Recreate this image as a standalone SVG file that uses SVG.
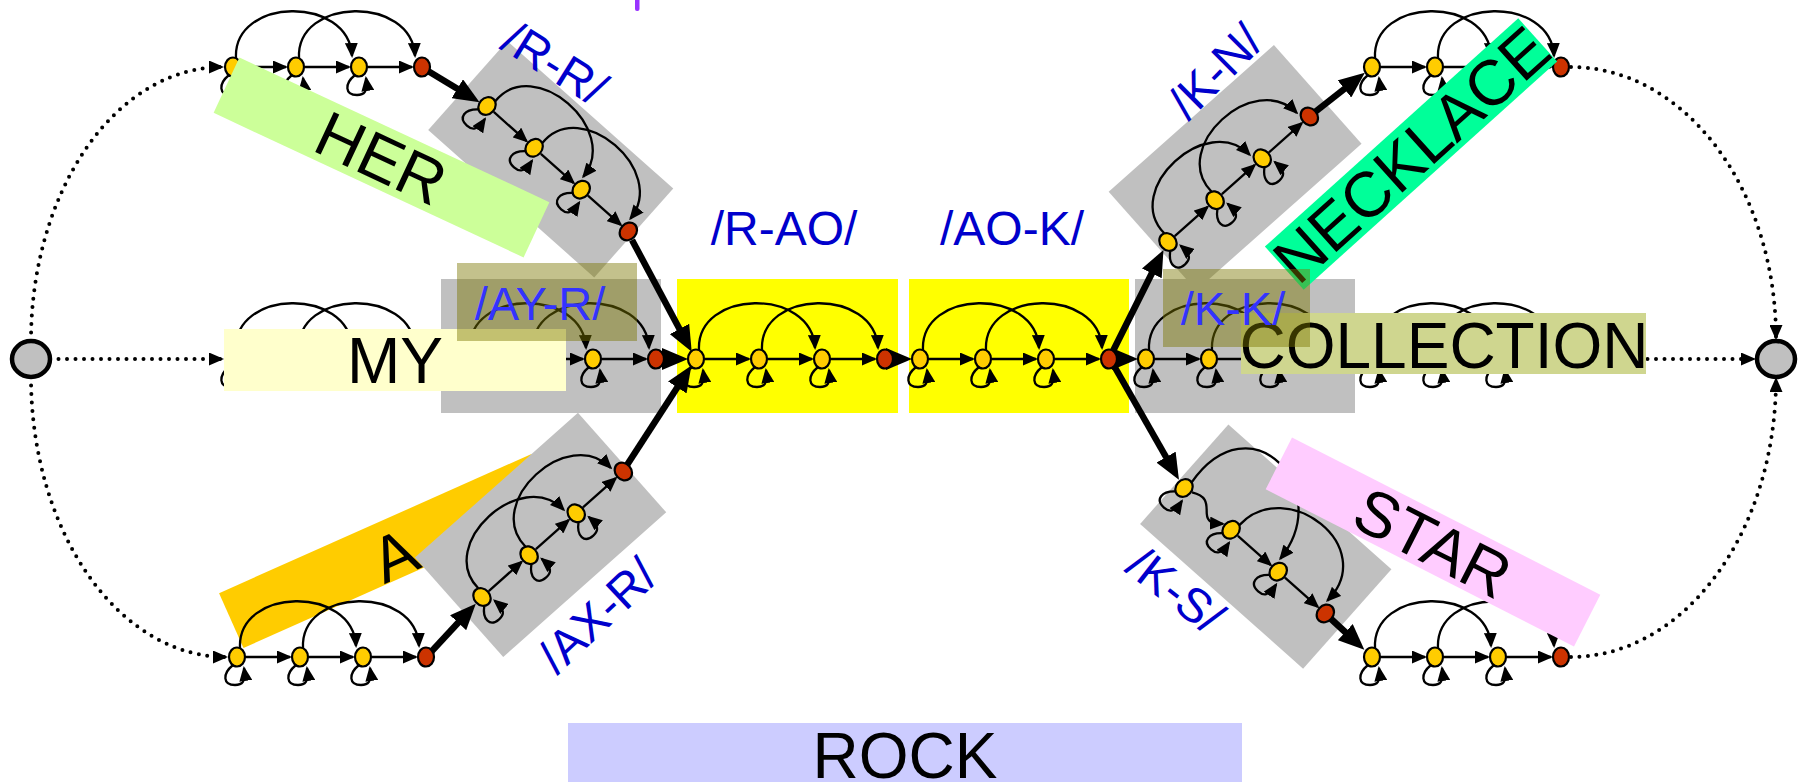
<svg xmlns="http://www.w3.org/2000/svg" width="1805" height="782" viewBox="0 0 1805 782">
<style>
.e{fill:none;stroke:#000;stroke-width:2.3;marker-end:url(#ah)}
.y{fill:#ffcc00;stroke:#000;stroke-width:2.2}
.r{fill:#cc3300;stroke:#000;stroke-width:2.2}
.box{fill:#c0c0c0}
.ybox{fill:#ffff00}
.tk{fill:none;stroke:#000;stroke-width:6.5;marker-end:url(#AH)}
.dt{fill:none;stroke:#000;stroke-width:4;stroke-dasharray:0 8.5;stroke-linecap:round;marker-end:url(#ah)}
.big{fill:#c0c0c0;stroke:#000;stroke-width:4.5}
.w{font-family:"Liberation Sans",Arial,sans-serif;font-size:64px;text-anchor:middle;fill:#000}
.t{font-family:"Liberation Sans",Arial,sans-serif;font-size:48px;text-anchor:middle;fill:#0000cc}
.t2{font-family:"Liberation Sans",Arial,sans-serif;font-size:47px;text-anchor:middle;fill:#3333ff}
.ol{fill:#7a7500;fill-opacity:.45}
</style>
<defs>
<marker id="ah" viewBox="0 0 15 13" refX="13" refY="6.5" markerWidth="15" markerHeight="13" markerUnits="userSpaceOnUse" orient="auto"><path d="M0,0L15,6.5L0,13z"/></marker>
<marker id="AH" viewBox="0 0 26 22" refX="16" refY="11" markerWidth="26" markerHeight="22" markerUnits="userSpaceOnUse" orient="auto"><path d="M0,0L26,11L0,22z"/></marker>
<g id="loops">
<path class="e" d="M-4,8C-15,17 -14,28 -2,28C5,28 9,25 7,11"/>
<path class="e" d="M59,8C48,17 49,28 61,28C68,28 72,25 70,11"/>
<path class="e" d="M122,8C111,17 112,28 124,28C131,28 135,25 133,11"/>
</g>
<g id="nodes">
<ellipse class="y" cx="0" cy="0" rx="8" ry="9.5"/>
<ellipse class="y" cx="63" cy="0" rx="8" ry="9.5"/>
<ellipse class="y" cx="126" cy="0" rx="8" ry="9.5"/>
<ellipse class="r" cx="189" cy="0" rx="8" ry="9.5"/>
</g>
<g id="chain">
<line class="e" x1="9" y1="0" x2="53" y2="0"/>
<line class="e" x1="72" y1="0" x2="116" y2="0"/>
<line class="e" x1="135" y1="0" x2="179" y2="0"/>
<path class="e" d="M3,-9C0,-70 116,-72 119,-11"/>
<path class="e" d="M66,-9C63,-70 179,-72 182,-11"/>
<use href="#loops"/>
<use href="#nodes"/>
</g>
<g id="chainks">
<path class="e" d="M9,-2C24,-10 28,-2 34,4C40,10 44,8 53,1"/>
<line class="e" x1="72" y1="0" x2="116" y2="0"/>
<line class="e" x1="135" y1="0" x2="179" y2="0"/>
<path class="e" d="M2,-9C-10,-112 115,-100 119,-11"/>
<path class="e" d="M66,-9C68,-78 186,-86 182,-11"/>
<use href="#loops"/>
<use href="#nodes"/>
</g>
</defs>
<rect width="1805" height="782" fill="#fff"/>
<rect x="635" y="-3" width="4.5" height="14" rx="2" fill="#9933ff"/>
<g id="label-a" transform="translate(387.5,551) rotate(-24)"><rect x="-171" y="-30" width="342" height="60" fill="#ffcc00"/><text class="w" x="5" y="29">A</text></g>
<g id="label-rock"><rect x="568" y="723" width="674" height="60" fill="#ccccff"/><text class="w" x="905" y="778">ROCK</text></g>
<g id="boxes">
<rect class="ybox" x="677" y="279" width="221" height="134"/>
<rect class="ybox" x="909" y="279" width="220" height="134"/>
<rect class="box" x="441" y="279" width="220" height="134"/>
<rect class="box" x="1135" y="279" width="220" height="134"/>
<rect class="box" transform="translate(487,106) rotate(41.6)" x="-28" y="-62" width="222" height="119"/>
<rect class="box" transform="translate(482,597) rotate(-41.6)" x="-24" y="-74" width="218" height="133"/>
<rect class="box" transform="translate(1168,242) rotate(-41.6)" x="-11" y="-77" width="221" height="132"/>
<rect class="box" transform="translate(1184,488) rotate(41.6)" x="-9" y="-77" width="218" height="133"/>
</g>
<g id="connectors">
<path class="dt" d="M50,359H222"/>
<path class="dt" d="M31,341A191 274 0 0 1 222,67"/>
<path class="dt" d="M31,377A195 280 0 0 0 226,657"/>
<path class="dt" d="M1571,67A205 271 0 0 1 1776,338"/>
<path class="dt" d="M1571,359H1754"/>
<path class="dt" d="M1571,657A205 278 0 0 0 1776,379"/>
<path class="tk" d="M428,71L471,97"/>
<path class="tk" d="M632,240L687,343"/>
<path class="tk" d="M663,359H678"/>
<path class="tk" d="M627,465L686,374"/>
<path class="tk" d="M892,359H902"/>
<path class="tk" d="M1116,359H1128"/>
<path class="tk" d="M1112,353L1159,259"/>
<path class="tk" d="M1113,364L1174,471"/>
<path class="tk" d="M1315,112L1357,79"/>
<path class="tk" d="M1330,618L1357,643"/>
<path class="tk" d="M431,652L469,611"/>
<path class="tk" d="M429,359H449"/>
<path class="tk" d="M1342,359H1354"/>
</g>
<g id="start"><ellipse class="big" cx="31" cy="359" rx="19" ry="18"/></g>
<g id="end"><ellipse class="big" cx="1776" cy="359" rx="19" ry="18"/></g>
<g id="chain-her" transform="translate(233,67)"><use href="#chain"/></g>
<g id="chain-r-r" transform="translate(487,106) rotate(41.6)"><use href="#chain"/></g>
<g id="chain-my" transform="translate(233,359)"><use href="#chain"/></g>
<g id="chain-ay-r" transform="translate(467,359)"><use href="#chain"/></g>
<g id="chain-a" transform="translate(237,657)"><use href="#chain"/></g>
<g id="chain-ax-r" transform="translate(482,597) rotate(-41.6)"><use href="#chain"/></g>
<g id="chain-r-ao" transform="translate(696,359)"><use href="#chain"/></g>
<g id="chain-ao-k" transform="translate(920,359)"><use href="#chain"/></g>
<g id="chain-k-k" transform="translate(1146,359)"><use href="#chain"/></g>
<g id="chain-collection" transform="translate(1372,359)"><use href="#chain"/></g>
<g id="chain-k-n" transform="translate(1168,242) rotate(-41.6)"><use href="#chain"/></g>
<g id="chain-necklace" transform="translate(1372,67)"><use href="#chain"/></g>
<g id="chain-k-s" transform="translate(1184,488) rotate(41.6)"><use href="#chainks"/></g>
<g id="chain-star" transform="translate(1372,657)"><use href="#chain"/></g>
<g id="label-her" transform="translate(381.5,157.5) rotate(25)"><rect x="-171" y="-30.5" width="342" height="61" fill="#ccff99"/><text class="w" y="23">HER</text></g>
<g id="label-my"><rect x="224" y="329" width="342" height="62" fill="#ffffcc"/><text class="w" x="395" y="383">MY</text></g>
<g id="label-collection"><rect x="1241" y="313" width="405" height="61" fill="#cfd68f"/><text class="w" x="1444" y="368">COLLECTION</text></g>
<g id="label-necklace" transform="translate(1411,154) rotate(-42)"><rect x="-170.5" y="-29" width="341" height="58" fill="#00ff99"/><text class="w" y="23">NECKLACE</text></g>
<g id="label-star" transform="translate(1433,542) rotate(27)"><rect x="-173" y="-29" width="346" height="58" fill="#ffccff"/><text class="w" y="23">STAR</text></g>
<g id="label-ay-r"><rect class="ol" x="457" y="263" width="180" height="78"/><text class="t2" x="540" y="320">/AY-R/</text></g>
<g id="label-k-k"><rect class="ol" x="1163" y="269" width="147" height="78"/><text class="t2" x="1233" y="325">/K-K/</text></g>
<g id="label-r-r" transform="translate(555,63) rotate(32)"><text class="t" y="17">/R-R/</text></g>
<g id="label-r-ao"><text class="t" x="784" y="245">/R-AO/</text></g>
<g id="label-ao-k"><text class="t" x="1012" y="245">/AO-K/</text></g>
<g id="label-ax-r" transform="translate(597,615) rotate(-43)"><text class="t" y="17">/AX-R/</text></g>
<g id="label-k-n" transform="translate(1215,71) rotate(-45)"><text class="t" y="17">/K-N/</text></g>
<g id="label-k-s" transform="translate(1176,590) rotate(38)"><text class="t" y="17">/K-S/</text></g>
</svg>
